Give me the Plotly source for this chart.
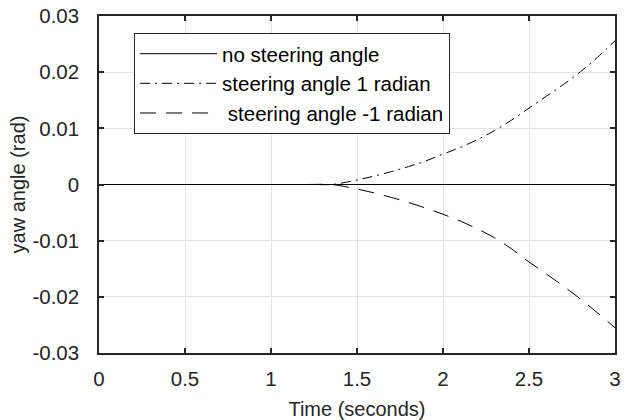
import plotly.graph_objects as go

# Data
t_vals = [0.0, 0.5, 1.0, 1.2, 1.35, 1.4, 1.5, 1.6, 1.7, 1.8, 1.9, 2.0, 2.1, 2.2,
          2.3, 2.4, 2.5, 2.6, 2.7, 2.8, 2.9, 3.0]
no_steer = [0.0] * len(t_vals)
steer_pos = [0.0, 0.0, 0.0, 0.0, 0.0, 0.0002, 0.0008, 0.0015, 0.0023, 0.0032, 0.0042,
             0.0054, 0.0066, 0.0080, 0.0096, 0.0115, 0.0136, 0.0157, 0.0178, 0.0201,
             0.0227, 0.0256]
steer_neg = [0.0, 0.0, 0.0, 0.0, 0.0, -0.0002, -0.0008, -0.0015, -0.0023, -0.0032,
             -0.0042, -0.0053, -0.0065, -0.0079, -0.0095, -0.0115, -0.0138, -0.0159,
             -0.0181, -0.0204, -0.0229, -0.0255]

x_ticks = [0, 0.5, 1, 1.5, 2, 2.5, 3]
x_tick_labels = ["0", "0.5", "1", "1.5", "2", "2.5", "3"]
y_ticks = [-0.03, -0.02, -0.01, 0, 0.01, 0.02, 0.03]
y_tick_labels = ["-0.03", "-0.02", "-0.01", "0", "0.01", "0.02", "0.03"]

names = ["no steering angle", "steering angle 1 radian", " steering angle -1 radian"]

FONT = "Liberation Sans, Arial, sans-serif"

fig = go.Figure()
fig.add_trace(go.Scatter(x=t_vals, y=no_steer, mode="lines", name=names[0],
                         line=dict(color="black", width=1, dash="solid")))
fig.add_trace(go.Scatter(x=t_vals, y=steer_pos, mode="lines", name=names[1],
                         line=dict(color="black", width=1, dash="10px,5px,2px,5px"), line_shape="spline"))
fig.add_trace(go.Scatter(x=t_vals, y=steer_neg, mode="lines", name=names[2],
                         line=dict(color="black", width=1, dash="16px,10px"), line_shape="spline"))

axis_common = dict(
    showline=True, linecolor="#262626", linewidth=1.5, mirror="ticks",
    ticks="inside", ticklen=5, tickcolor="#262626", tickwidth=1.5,
    showgrid=True, gridcolor="#e3e3e3", gridwidth=1, zeroline=False,
    automargin=False, ticklabeloverflow="allow",
    tickfont=dict(family=FONT, size=20.5, color="#262626"),
)

fig.update_layout(
    width=628, height=420,
    margin=dict(l=99, r=13, t=16, b=67),
    paper_bgcolor="white", plot_bgcolor="white",
    font=dict(family=FONT, color="#262626"),
    xaxis=dict(range=[0, 3], tickvals=x_ticks, ticktext=x_tick_labels, ticklabelstandoff=7,
               title=dict(text="Time (seconds)", font=dict(size=20), standoff=24), **axis_common),
    yaxis=dict(range=[-0.03, 0.03], tickvals=y_ticks, ticktext=y_tick_labels, ticklabelstandoff=14,
               title=dict(text="yaw angle (rad)", font=dict(size=20), standoff=1), **axis_common),
    legend=dict(x=0.068, y=0.95, xanchor="left", yanchor="top",
                bgcolor="white", bordercolor="#262626", borderwidth=1,
                font=dict(family=FONT, size=20.5, color="black"), tracegroupgap=0,
                itemwidth=77),
    showlegend=True,
)

# remove the page's default body margin so the figure fills the window exactly
fig.write_html("out.html", config={"displayModeBar": False},
               post_script="document.body.style.margin='0';")
